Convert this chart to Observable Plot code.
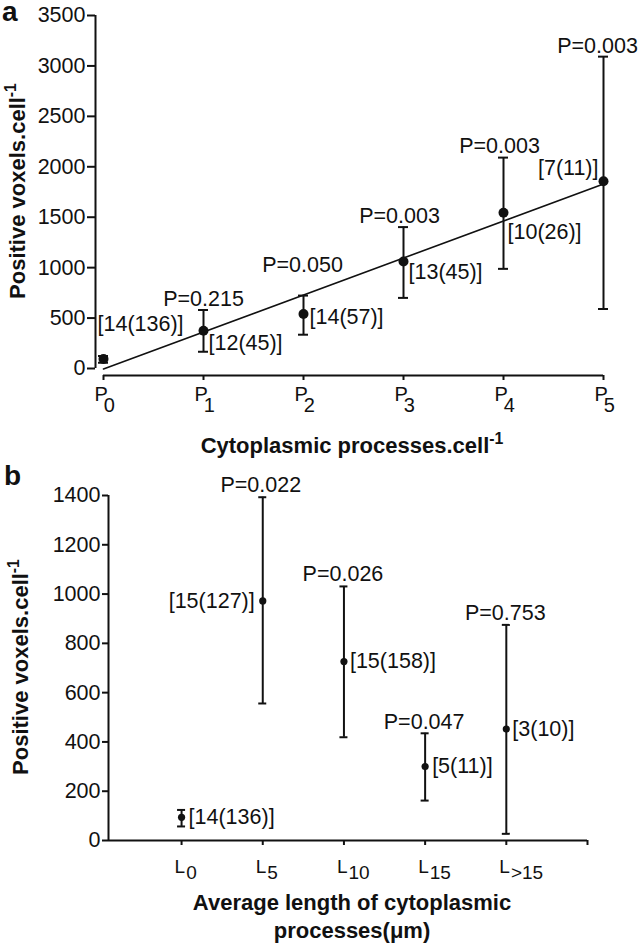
<!DOCTYPE html>
<html><head><meta charset="utf-8">
<script src="https://cdn.jsdelivr.net/npm/d3@7"></script>
<script src="https://cdn.jsdelivr.net/npm/@observablehq/plot@0.6"></script>
<style>
body{margin:0;background:#fff;}
#wrap{position:relative;width:640px;height:946px;overflow:hidden;background:#fff;}
#wrap svg{position:absolute;left:0;overflow:visible;}
</style></head><body><div id="wrap"></div>
<script>
// ---------- Panel a data ----------
const catsA = ["P0", "P1", "P2", "P3", "P4", "P5"];
const meanA = [95, 375, 541, 1061, 1545, 1856];
const lowA  = [57, 166, 335, 700, 988, 590];
const highA = [124, 580, 723, 1402, 2091, 3092];
const pA    = ["", "P=0.215", "P=0.050", "P=0.003", "P=0.003", "P=0.003"];
const nA    = ["[14(136)]", "[12(45)]", "[14(57)]", "[13(45)]", "[10(26)]", "[7(11)]"];
const yTicksA = [0, 500, 1000, 1500, 2000, 2500, 3000, 3500];

// ---------- Panel b data ----------
const catsB = ["L0", "L5", "L10", "L15", "L>15"];
const meanB = [94, 972, 726, 300, 452];
const lowB  = [57, 556, 419, 162, 27];
const highB = [124, 1393, 1031, 435, 875];
const pB    = ["", "P=0.022", "P=0.026", "P=0.047", "P=0.753"];
const nB    = ["[14(136)]", "[15(127)]", "[15(158)]", "[5(11)]", "[3(10)]"];
const yTicksB = [0, 200, 400, 600, 800, 1000, 1200, 1400];

// ---------- layout / style ----------
const FONT = "'Liberation Sans', Arial, Helvetica, sans-serif";
const INK = "#111";
const LABEL_SIZE = 21.5;
// label placement (pixels) : [dx, dy, anchor]
const nPlaceA = [[-6, -35, "start"], [5, 12, "start"], [6, 3, "start"], [5, 11, "start"], [4, 19, "start"], [-5, -13, "end"]];
const pPlaceA = [null, [0, -11], [-1, -30], [-4, -11], [-4, -11], [-6, -11]];
const nPlaceB = [[7, 0, "start"], [-8, 0, "end"], [6, 0, "start"], [7, 0, "start"], [6, 0, "start"]];
const pPlaceB = [null, [-2, -12], [-1, -12], [-1, -11], [-1, -12]];

const dataA = catsA.map((c, k) => ({x: k, cat: c, mean: meanA[k], low: lowA[k], high: highA[k], p: pA[k], n: nA[k]}));
const dataB = catsB.map((c, k) => ({x: k + 1, cat: c, mean: meanB[k], low: lowB[k], high: highB[k], p: pB[k], n: nB[k]}));

function errorMarks(data, capHalf, r) {
  return [
    Plot.ruleX(data, {x: "x", y1: "low", y2: "high", stroke: INK, strokeWidth: 2}),
    Plot.ruleY(data, {x1: "x", x2: "x", y: "high", insetLeft: -capHalf, insetRight: -capHalf, stroke: INK, strokeWidth: 2}),
    Plot.ruleY(data, {x1: "x", x2: "x", y: "low", insetLeft: -capHalf, insetRight: -capHalf, stroke: INK, strokeWidth: 2}),
    Plot.dot(data, {x: "x", y: "mean", r, fill: INK, stroke: null})
  ];
}
function labelMarks(data, nPlace, pPlace) {
  const out = [];
  data.forEach((d, k) => {
    const [dx, dy, anchor] = nPlace[k];
    out.push(Plot.text([d], {x: "x", y: "mean", text: "n", dx, dy, textAnchor: anchor, lineAnchor: "middle", fontSize: LABEL_SIZE, fill: INK}));
    if (d.p) {
      const [pdx, pdy] = pPlace[k];
      out.push(Plot.text([d], {x: "x", y: "high", text: "p", dx: pdx, dy: pdy, textAnchor: "middle", lineAnchor: "middle", fontSize: LABEL_SIZE, fill: INK}));
    }
  });
  return out;
}
function subscriptTicks(svg, o) {
  d3.select(svg).selectAll('g[aria-label="x-axis tick label"] text').each(function () {
    const s = this.textContent;
    if (!s) return;
    const t = d3.select(this);
    t.text(null).attr("text-anchor", "start");
    t.append("tspan").attr("dx", o.dx).text(s[0]);
    t.append("tspan").attr("dx", o.subDx).attr("dy", o.subDy).text(s.slice(1));
  });
}
function addText(svg, {x, y, rotate = 0, size, weight = "bold", anchor = "middle", main, sup}) {
  const t = d3.select(svg).append("text")
    .attr("transform", `translate(${x},${y}) rotate(${rotate})`)
    .attr("text-anchor", anchor).attr("font-family", FONT)
    .attr("font-size", size).attr("font-weight", weight).attr("fill", INK)
    .text(main);
  if (sup) t.append("tspan").attr("font-size", size * 0.72).attr("dy", -size * 0.4).text(sup);
}

const wrap = document.getElementById("wrap");

// ---------- Panel a ----------
const xMinA = -0.08, xMaxA = 5;
const svgA = Plot.plot({
  width: 640, height: 460,
  marginLeft: 95, marginRight: 37, marginTop: 15, marginBottom: 85,
  insetBottom: 7,
  style: {fontFamily: FONT, color: INK, background: "transparent", overflow: "visible"},
  x: {domain: [xMinA, xMaxA], axis: null},
  y: {domain: [0, 3500], axis: null},
  marks: [
    Plot.ruleX([xMinA], {y1: 0, y2: 3500, stroke: INK, strokeWidth: 2}),
    Plot.axisY({ticks: yTicksA, tickSize: 8, tickPadding: 2, fontSize: LABEL_SIZE, tickFormat: d => String(d), label: null, stroke: INK, strokeWidth: 2}),
    Plot.ruleY([0], {x1: 0, x2: xMaxA, dy: 7, stroke: INK, strokeWidth: 2}),
    Plot.axisX({ticks: dataA.map(d => d.x), tickSize: 5, tickPadding: 6, fontSize: 20, tickFormat: i => catsA[i], label: null, stroke: INK, strokeWidth: 2}),
    Plot.linearRegressionY(dataA, {x: "x", y: "mean", ci: 0, stroke: INK, strokeWidth: 1.6}),
    ...errorMarks(dataA, 5, 5),
    ...labelMarks(dataA, nPlaceA, pPlaceA)
  ]
});
svgA.style.top = "0px";
subscriptTicks(svgA, {dx: -9, subDx: -4, subDy: 11});
addText(svgA, {x: 25, y: 191, rotate: -90, size: 22, main: "Positive voxels.cell", sup: "-1"});
addText(svgA, {x: 352, y: 453, size: 22, main: "Cytoplasmic processes.cell", sup: "-1"});
addText(svgA, {x: 2, y: 21, size: 28, anchor: "start", main: "a"});
wrap.appendChild(svgA);

// ---------- Panel b ----------
const xMinB = 0.1, xMaxB = 6;
const svgB = Plot.plot({
  width: 640, height: 486,
  marginLeft: 108, marginRight: 53, marginTop: 35, marginBottom: 106,
  style: {fontFamily: FONT, color: INK, background: "transparent", overflow: "visible"},
  x: {domain: [xMinB, xMaxB], axis: null},
  y: {domain: [0, 1400], axis: null},
  marks: [
    Plot.ruleX([xMinB], {y1: 0, y2: 1400, stroke: INK, strokeWidth: 2}),
    Plot.ruleY([0], {x1: xMinB, x2: xMaxB, stroke: INK, strokeWidth: 2}),
    Plot.axisY({ticks: yTicksB, tickSize: 6, tickPadding: 2, fontSize: LABEL_SIZE, tickFormat: d => String(d), label: null, stroke: INK, strokeWidth: 2}),
    Plot.axisX({ticks: [...dataB.map(d => d.x), xMaxB], tickSize: 5, tickPadding: 14, fontSize: 19, tickFormat: i => catsB[i - 1] || "", label: null, stroke: INK, strokeWidth: 2}),
    ...errorMarks(dataB, 4, 3.6),
    ...labelMarks(dataB, nPlaceB, pPlaceB)
  ]
});
svgB.style.top = "460px";
subscriptTicks(svgB, {dx: -7, subDx: 1, subDy: 6});
addText(svgB, {x: 28, y: 207, rotate: -90, size: 22, main: "Positive voxels.cell", sup: "-1"});
addText(svgB, {x: 352, y: 450, size: 22, main: "Average length of cytoplasmic"});
addText(svgB, {x: 352, y: 478, size: 22, main: "processes(\u03bcm)"});
addText(svgB, {x: 4, y: 25, size: 28, anchor: "start", main: "b"});
wrap.appendChild(svgB);
</script></body></html>
